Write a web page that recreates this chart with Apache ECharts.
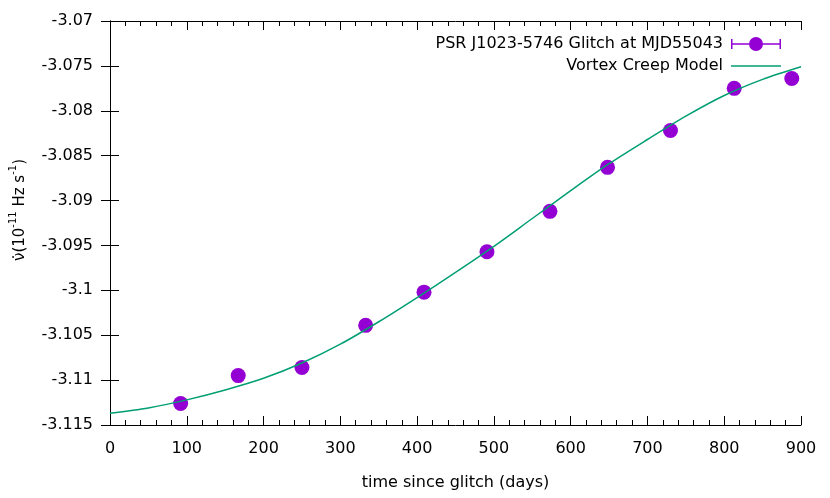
<!DOCTYPE html>
<html>
<head>
<meta charset="utf-8">
<title>PSR J1023-5746 glitch</title>
<script src="https://cdn.jsdelivr.net/npm/echarts@6/dist/echarts.min.js"></script>
<style>
  html, body { margin: 0; padding: 0; background: #fff; }
  #chart { width: 830px; height: 498px; }
</style>
</head>
<body>
<div id="chart"></div>
<script>
  // measured spin-down rate (days since glitch, nu-dot in 1e-11 Hz/s)
  var obsDays = [92, 167, 250, 333, 409, 491, 573, 648, 730, 813, 888]
  var obsNuDot = [-3.1126, -3.1095, -3.1086, -3.1039, -3.1002, -3.0957, -3.0912, -3.0863, -3.0822, -3.0775, -3.0764]

  // vortex creep model curve
  var modelDays = [0, 50, 100, 150, 200, 250, 300, 350, 400, 450, 500, 550, 600, 650, 700, 750, 800, 850, 900]
  var modelNuDot = [-3.1137, -3.1131, -3.1122, -3.1111, -3.1098, -3.1081, -3.1060, -3.1035, -3.1008, -3.0980,
    -3.0951, -3.0920, -3.0889, -3.0859, -3.0832, -3.0806, -3.0783, -3.0765, -3.0751]

  var xTicks = {min: 0, max: 900, step: 100}
  var yTicks = {min: -3.115, max: -3.07, step: 0.005}

  var FONT = 'DejaVu Sans'
  var obsName = 'PSR J1023-5746 Glitch at MJD55043'
  var modelName = 'Vortex Creep Model'

  var myChart = echarts.init(document.getElementById('chart'))

  var axisBase = {
    axisLine: {show: true, lineStyle: {color: '#000', width: 1}},
    axisTick: {show: true, inside: true, length: 9, lineStyle: {color: '#000'}},
    splitLine: {show: false}
  }

  function fmt(v) {
    return String(parseFloat(v.toFixed(4)))
  }

  var legendText = {fontFamily: FONT, fontSize: 16, color: '#000', padding: [0, 3, 0, 0]}

  var option = {
    animation: false,
    textStyle: {fontFamily: FONT},
    grid: {left: 110, right: 29, top: 21, bottom: 73, containLabel: false},
    legend: [
      {
        data: [obsName],
        right: 44,
        top: 31,
        align: 'right',
        itemWidth: 50,
        itemHeight: 14,
        icon: 'path://M0,3h1.5v10h-1.5z M0,7.25h50v1.5h-50z M48.5,3h1.5v10h-1.5z M32,8 A7,7 0 1,1 18,8 A7,7 0 1,1 32,8 Z',
        textStyle: legendText
      },
      {
        data: [modelName],
        right: 44,
        top: 53,
        align: 'right',
        itemWidth: 50,
        itemHeight: 14,
        icon: 'path://M0,0h50v1.5h-50z',
        textStyle: legendText
      }
    ],
    graphic: [
      {
        type: 'text',
        x: 18,
        y: 210,
        rotation: Math.PI / 2,
        style: {
          text: '{t|ν̇(10}{s|-11}{t| Hz s}{s|-1}{t|)}',
          align: 'center',
          verticalAlign: 'middle',
          rich: {
            t: {fontFamily: FONT, fontSize: 15, fill: '#000', lineHeight: 20, verticalAlign: 'bottom'},
            s: {fontFamily: FONT, fontSize: 10, fill: '#000', lineHeight: 20, verticalAlign: 'top'}
          }
        }
      }
    ],
    xAxis: [
      Object.assign({}, axisBase, {
        type: 'value',
        min: xTicks.min,
        max: xTicks.max,
        interval: xTicks.step,
        name: 'time since glitch (days)',
        nameLocation: 'middle',
        nameGap: 50,
        nameTextStyle: {fontFamily: FONT, fontSize: 16, color: '#000'},
        minorTick: {show: true, splitNumber: 5, length: 5, lineStyle: {color: '#000'}},
        axisLabel: {fontFamily: FONT, fontSize: 16, color: '#000', margin: 16}
      }),
      Object.assign({}, axisBase, {
        type: 'value',
        position: 'top',
        min: xTicks.min,
        max: xTicks.max,
        interval: xTicks.step,
        minorTick: {show: true, splitNumber: 5, length: 5, lineStyle: {color: '#000'}},
        axisLabel: {show: false}
      })
    ],
    yAxis: [
      Object.assign({}, axisBase, {
        type: 'value',
        min: yTicks.min,
        max: yTicks.max,
        interval: yTicks.step,
        axisLabel: {fontFamily: FONT, fontSize: 16, color: '#000', margin: 17, formatter: fmt}
      }),
      Object.assign({}, axisBase, {
        type: 'value',
        position: 'right',
        min: yTicks.min,
        max: yTicks.max,
        interval: yTicks.step,
        axisLabel: {show: false}
      })
    ],
    series: [
      {
        name: obsName,
        type: 'scatter',
        symbol: 'circle',
        symbolSize: 15,
        itemStyle: {color: '#9400d3', opacity: 1},
        data: obsDays.map(function (d, i) { return [d, obsNuDot[i]] }),
        z: 2
      },
      {
        name: modelName,
        type: 'line',
        smooth: 0.3,
        symbol: 'none',
        showSymbol: false,
        lineStyle: {color: '#009e73', width: 1.5},
        itemStyle: {color: '#009e73'},
        data: modelDays.map(function (d, i) { return [d, modelNuDot[i]] }),
        z: 3
      }
    ]
  }

  myChart.setOption(option)
</script>
</body>
</html>
